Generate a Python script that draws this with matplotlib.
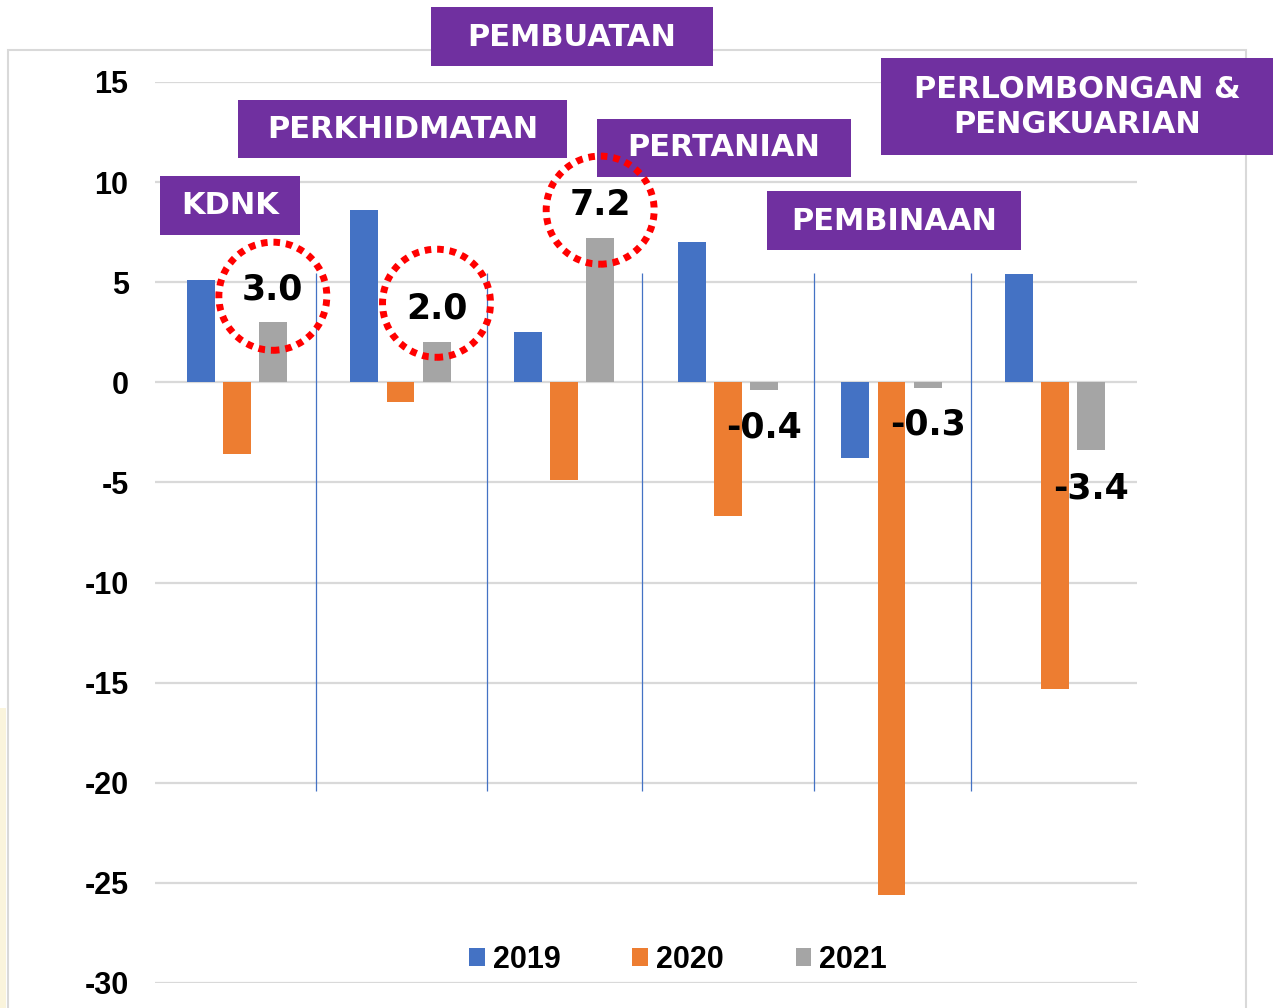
import matplotlib
matplotlib.use('Agg')
import matplotlib.pyplot as plt
from matplotlib.patches import Rectangle, Ellipse
import numpy as np

# data
sectors = ['KDNK', 'PERKHIDMATAN', 'PEMBUATAN', 'PERTANIAN', 'PEMBINAAN',
           'PERLOMBONGAN &\nPENGKUARIAN']
years = ['2019', '2020', '2021']
v2019 = [5.1, 8.6, 2.5, 7.0, -3.8, 5.4]
v2020 = [-3.6, -1.0, -4.9, -6.7, -25.6, -15.3]
v2021 = [3.0, 2.0, 7.2, -0.4, -0.3, -3.4]
highlighted = [0, 1, 2]   # 2021 values ringed in red
yticks = [15, 10, 5, 0, -5, -10, -15, -20, -25, -30]

colors = ['#4472C4', '#ED7D31', '#A5A5A5']
purple = '#7030A0'
W, H = 1279, 1008

fig = plt.figure(figsize=(W / 100, H / 100), dpi=100)
fig.patch.set_facecolor('white')


def px(x, y):
    return x / W, 1 - y / H


# outer frame of the slide chart
fig.add_artist(Rectangle(px(8, 1015), 1238 / W, 965 / H, transform=fig.transFigure,
                         fill=False, edgecolor='#D9D9D9', linewidth=1.5, zorder=0))
# faint slide background at left edge
fig.add_artist(Rectangle(px(0, 1008), 6 / W, 300 / H, transform=fig.transFigure,
                         facecolor='#FAF4DC', edgecolor='none', zorder=0))

ax = fig.add_axes([155 / W, 1 - 983 / H, 982 / W, 901 / H])
ax.set_facecolor('none')

x = np.arange(len(sectors))
bw = 0.171
step = 0.22
for k, vals in enumerate([v2019, v2020, v2021]):
    ax.bar(x + (k - 1) * step, vals, bw, color=colors[k], label=years[k], zorder=3)

ax.set_xlim(-0.5, len(sectors) - 0.5)
ax.set_ylim(-30, 15)
ax.set_yticks(yticks)
ax.set_yticklabels([str(t) for t in yticks])
ax.set_xticks([])
ax.tick_params(axis='y', length=0, pad=19)
for lab in ax.get_yticklabels():
    lab.set_fontfamily('Liberation Sans')
    lab.set_fontweight('bold')
    lab.set_fontsize(22)
for s in ax.spines.values():
    s.set_visible(False)
ax.grid(axis='y', color='#D9D9D9', linewidth=1.6, zorder=1)
ax.set_axisbelow(True)

# thin blue separators between sectors
sep_x = [0.483, 1.528, 2.475, 3.526, 4.485]
ax.vlines(sep_x, -20.4, 5.45, color='#4472C4', linewidth=0.9, zorder=2)

# value labels for 2021
lbl_y = [4.65, 3.7, 8.85, -2.25, -2.1, -5.3]
for i, v in enumerate(v2021):
    ax.text(x[i] + step, lbl_y[i], f'{v:.1f}', ha='center', va='center',
            fontsize=25, fontweight='bold', family='DejaVu Sans', color='black', zorder=6)

ax.set_zorder(3)

# purple sector boxes (pixel layout: x0, y0, x1, y1)
boxes = [(160, 176, 300, 235), (238, 100, 567, 158), (431, 7, 713, 66),
         (597, 119, 851, 177), (767, 191, 1021, 250), (881, 58, 1273, 155)]
text_y = [206, 129, 37, 148, 221, 107]
for name, (x0, y0, x1, y1), ty in zip(sectors, boxes, text_y):
    fig.add_artist(Rectangle(px(x0, y1), (x1 - x0) / W, (y1 - y0) / H,
                             transform=fig.transFigure, facecolor=purple,
                             edgecolor='none', zorder=6))
    fig.text((x0 + x1) / 2 / W, 1 - ty / H, name, ha='center', va='center',
             fontsize=22, fontweight='bold', family='DejaVu Sans', color='white',
             linespacing=1.3, zorder=7)

# red dotted rings, drawn above the boxes
ring_dy = [1.3, 1.95, 1.4]
for i, dy in zip(highlighted, ring_dy):
    ring = Ellipse((x[i] + step, v2021[i] + dy), 108 / 163.7, 108 / 20,
                   transform=ax.transData, fill=False, edgecolor='#FF0000',
                   linewidth=5.0, linestyle=(0, (0.95, 0.85)), zorder=8)
    ring.set_capstyle('butt')
    fig.add_artist(ring)

leg = ax.legend(loc='center', bbox_to_anchor=(678 / W, 1 - 960 / H),
                bbox_transform=fig.transFigure, ncol=3, frameon=False,
                handlelength=0.52, handleheight=0.52, handletextpad=0.26,
                columnspacing=2.35, prop={'family': 'Liberation Sans',
                                          'weight': 'bold', 'size': 22})

fig.savefig('out.png', dpi=100)
